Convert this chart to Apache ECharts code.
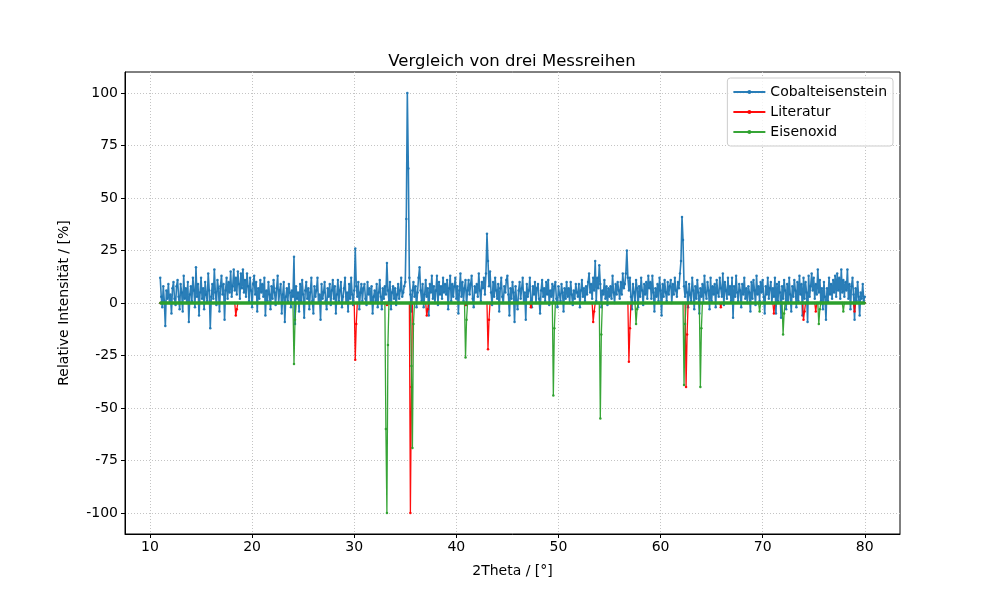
<!DOCTYPE html>
<html>
<head>
<meta charset="utf-8">
<script src="https://cdn.jsdelivr.net/npm/echarts@6/dist/echarts.min.js"></script>
<style>
  html, body { margin: 0; padding: 0; background: #fff; }
  #chart { width: 1000px; height: 600px; }
</style>
</head>
<body>
<div id="chart"></div>
<script>
var blueStart = [11, 21, 31, 41, 51, 61, 71];
var blueStep = 0.1;
var blue11 = [12,3,-2,8,1,-11,6,2,9,0, 4,-5,7,10,2,-1,8,11,3,-3,
              9,5,-4,13,2,7,0,10,-9,4, 8,1,12,6,-2,17,3,9,-6,5,
              12,2,7,-3,10,4,1,14,6,-12, 3,9,2,16,5,-1,11,7,-4,8,
              13,4,9,-8,6,12,2,10,5,15, 3,8,16,6,12,4,15,9,2,14,
              7,16,5,11,3,14,8,1,12,6, -2,9,13,4,10,-4,7,2,11,5];
var blue21 = [9,3,12,-6,6,1,10,4,-3,8, 2,11,5,-1,7,13,0,6,9,-5,
              4,10,-9,3,7,1,9,5,-2,6, 3,22,-10,8,2,5,-4,9,1,11,
              4,-7,6,10,2,7,-3,5,12,1, -5,8,3,6,12,0,4,-8,9,2,
              5,10,1,-3,7,3,9,-1,6,11, 2,8,-5,4,11,1,6,10,-2,3,
              7,12,0,5,-4,9,2,12,4,-1, 6,26,8,3,10,-3,5,9,1,7];
var blue31 = [9,2,-1,10,4,7,0,8,-5,3, 6,1,9,-2,5,11,3,-3,7,2,
              8,4,19,6,1,10,-3,5,8,2, 7,-1,4,9,2,6,12,3,5,8,
              10,40,100,64,12,4,-4,6,10,3, 8,-2,5,12,17,6,1,9,-2,4,
              11,3,7,-6,9,5,13,2,8,0, 6,13,-1,10,4,8,2,12,5,9,
              4,11,-3,7,13,1,9,3,8,12, 2,8,-5,6,14,3,10,1,7,11];
var blue41 = [-1,6,11,4,9,13,2,-2,8,5, 9,3,14,6,1,10,7,12,4,14,
              33,20,8,15,5,-1,10,3,12,6, 2,9,-4,7,12,3,0,8,5,11,
              13,4,-6,7,2,10,5,-9,8,1, -3,6,10,2,7,12,0,5,-8,9,
              3,6,12,1,-2,8,4,10,0,7, 9,2,-5,6,11,3,7,1,10,4,
              11,-1,6,3,9,1,8,10,2,-2, 8,4,1,9,5,-4,7,2,10,3];
var blue51 = [7,0,10,4,-1,6,2,9,5,3, 9,-2,6,11,3,7,1,8,4,10,
              14,5,9,2,12,6,20,1,12,7, 18,9,-2,6,4,11,2,8,-1,7,
              3,8,2,13,5,0,9,4,10,6, 2,10,4,14,7,9,14,25,12,6,
              12,3,-3,9,5,1,11,7,-2,8, 3,12,6,-1,9,4,10,2,13,7,
              10,2,13,5,-4,7,3,9,1,12, 6,-6,9,3,11,5,1,10,4,8];
var blue61 = [11,0,9,4,12,6,3,10,7,14, 20,41,30,8,3,10,5,-2,9,4,
              1,12,6,-3,8,2,11,5,-5,7, 3,9,0,13,5,2,10,6,-3,12,
              1,8,4,9,-2,11,5,3,12,7, 3,14,-1,10,6,2,12,4,8,1,
              12,-7,8,3,13,5,1,9,6,-2, 9,4,12,2,7,0,8,5,-4,10,
              2,11,6,-1,13,4,8,1,10,5, 11,3,-5,8,4,12,2,7,10,0];
var blue71 = [7,3,12,-5,9,1,10,5,-7,8, 2,11,6,-3,9,0,12,4,-4,8,
              3,11,6,-2,10,1,13,4,9,-6, 12,2,10,5,-9,13,3,8,14,6,
              12,2,9,4,16,5,11,1,7,-3, 10,3,-8,7,1,12,4,9,2,11,
              5,13,3,14,6,12,2,16,5,11, 3,10,6,16,2,9,-3,8,12,4,
              -8,7,1,10,3,-6,5,2,9,1, 3];

// Literatur: Grundlinie und Reflexe [2Theta, Intensität]
var literatur = [
  [11,0],
  [18.3,0],[18.4,-6],[18.5,-3],[18.6,0],
  [30.0,0],[30.1,-27],[30.2,-10],[30.3,0],
  [33.1,0],[33.2,-1],[33.3,0],
  [35.4,0],[35.5,-100],[35.6,-40],[35.7,0],
  [37.0,0],[37.1,-6],[37.2,-3],[37.3,0],
  [40.8,0],[40.9,-1],[41.0,0],
  [43.0,0],[43.1,-22],[43.2,-8],[43.3,0],
  [47.2,0],[47.3,-2],[47.4,0],
  [53.3,0],[53.4,-9],[53.5,-4],[53.6,0],
  [56.8,0],[56.9,-28],[57.0,-12],[57.1,0],
  [62.4,0],[62.5,-40],[62.6,-15],[62.7,0],
  [65.8,0],[65.9,-2],[66.0,0],
  [71.0,0],[71.1,-5],[71.2,0],
  [73.9,0],[74.0,-8],[74.1,-4],[74.2,0],
  [75.1,0],[75.2,-4],[75.3,0],
  [78.9,0],[79.0,-4],[79.1,0],
  [80,0]
];

// Eisenoxid
var eisenoxid = [
  [11,0],
  [24.0,0],[24.1,-29],[24.2,-8],[24.3,0],
  [33.0,0],[33.1,-60],[33.2,-100],[33.3,-20],[33.4,0],
  [35.5,0],[35.6,-30],[35.7,-69],[35.8,-10],[35.9,0],
  [40.8,0],[40.9,-26],[41.0,-8],[41.1,0],
  [49.4,0],[49.5,-44],[49.6,-12],[49.7,0],
  [54.0,0],[54.1,-55],[54.2,-15],[54.3,0],
  [57.5,0],[57.6,-10],[57.7,-3],[57.8,0],
  [62.2,0],[62.3,-39],[62.4,-10],[62.5,0],
  [63.8,0],[63.9,-40],[64.0,-12],[64.1,0],
  [69.6,0],[69.7,-4],[69.8,0],
  [71.9,0],[72.0,-15],[72.1,-5],[72.2,0],
  [75.4,0],[75.5,-10],[75.6,-3],[75.7,0],
  [77.8,0],[77.9,-4],[78.0,0],
  [80,0]
];

var xTicks = [10, 20, 30, 40, 50, 60, 70, 80];
var yTicks = [-100, -75, -50, -25, 0, 25, 50, 75, 100];

// Punkte der blauen Messreihe zusammenbauen
var blueParts = [blue11, blue21, blue31, blue41, blue51, blue61, blue71];
var cobalt = [];
blueParts.forEach(function (arr, k) {
  arr.forEach(function (v, i) {
    var x = +(blueStart[k] + i * blueStep).toFixed(2);
    cobalt.push([x, v]);
  });
});

var font = 'DejaVu Sans';
var chart = echarts.init(document.getElementById('chart'));

function lineSeries(name, data, color, z, width) {
  return {
    name: name,
    type: 'line',
    data: data,
    z: z,
    symbol: 'circle',
    symbolSize: 2.5,
    showAllSymbol: true,
    animation: false,
    lineStyle: { color: color, width: width, opacity: 0.95 },
    itemStyle: { color: color, opacity: 0.95 }
  };
}

var eisen = lineSeries('Eisenoxid', eisenoxid, '#2ca02c', 4, 1.3);
eisen.markLine = {
  silent: true,
  symbol: 'none',
  label: { show: false },
  lineStyle: { color: '#2ca02c', width: 3.5, type: 'solid', opacity: 1 },
  data: [[{ coord: [11, 0] }, { coord: [80, 0] }]]
};

chart.setOption({
  animation: false,
  title: {
    text: 'Vergleich von drei Messreihen',
    left: 507, top: 48, textAlign: 'center',
    textStyle: { fontFamily: font, fontSize: 16.5, fontWeight: 'normal', color: '#000' }
  },
  legend: {
    orient: 'vertical',
    right: 107, top: 78,
    padding: [7, 6, 7, 5],
    itemGap: 6,
    itemWidth: 32, itemHeight: 5,
    backgroundColor: 'rgba(255,255,255,0.8)',
    borderColor: '#ccc', borderWidth: 1, borderRadius: 3,
    textStyle: { fontFamily: font, fontSize: 14, color: '#000' },
    data: ['Cobalteisenstein', 'Literatur', 'Eisenoxid']
  },
  grid: {
    left: 125, right: 100, top: 72, bottom: 66,
    show: true, borderColor: '#000', borderWidth: 1
  },
  xAxis: {
    type: 'value', min: 7.55, max: 83.45,
    name: '2Theta / [°]', nameLocation: 'middle', nameGap: 30,
    nameTextStyle: { fontFamily: font, fontSize: 14, color: '#000' },
    axisLine: { show: true, onZero: false, lineStyle: { color: '#000' } },
    axisTick: { show: true, length: 4, customValues: xTicks, lineStyle: { color: '#000' } },
    axisLabel: { customValues: xTicks, fontFamily: font, fontSize: 14, color: '#000', margin: 6 },
    splitLine: { show: true, lineStyle: { color: '#c4c4c4', type: [1, 2], width: 1 } }
  },
  yAxis: {
    type: 'value', min: -110, max: 110,
    name: 'Relative Intensität / [%]', nameLocation: 'middle', nameGap: 54,
    nameTextStyle: { fontFamily: font, fontSize: 14, color: '#000' },
    axisLine: { show: true, onZero: false, lineStyle: { color: '#000' } },
    axisTick: { show: true, length: 4, customValues: yTicks, lineStyle: { color: '#000' } },
    axisLabel: { customValues: yTicks, fontFamily: font, fontSize: 14, color: '#000', margin: 7 },
    splitLine: { show: true, lineStyle: { color: '#c4c4c4', type: [1, 2], width: 1 } }
  },
  series: [
    lineSeries('Cobalteisenstein', cobalt, '#1f77b4', 2, 1.6),
    lineSeries('Literatur', literatur, '#ff0000', 3, 1.3),
    eisen
  ]
});
</script>
</body>
</html>
